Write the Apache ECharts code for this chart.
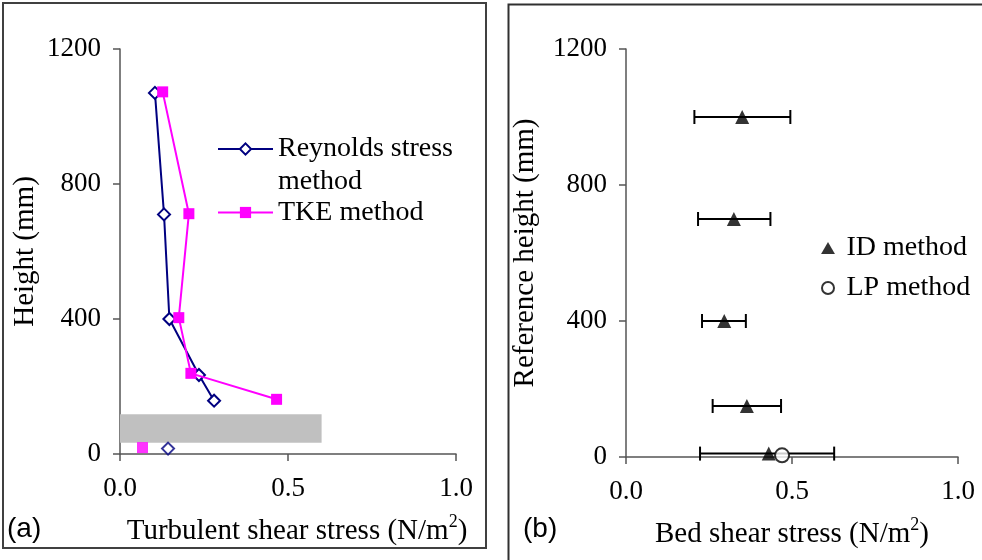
<!DOCTYPE html>
<html>
<head>
<meta charset="utf-8">
<script src="https://cdn.jsdelivr.net/npm/echarts@6/dist/echarts.min.js"></script>
<style>
html,body{margin:0;padding:0;background:#fff;}
#chart{width:982px;height:560px;}
</style>
</head>
<body>
<div id="chart"></div>
<script>
// ---- Panel (a): turbulent shear stress profiles ----
const rsStress = [0.104, 0.131, 0.147, 0.235, 0.280];
const rsHeight = [1070, 710, 400, 234, 158];
const rsNearBedStress = [0.143];
const rsNearBedHeight = [16];

const tkeStress = [0.127, 0.205, 0.175, 0.211, 0.466];
const tkeHeight = [1073, 712, 404, 239, 162];
const tkeNearBedStress = [0.067];
const tkeNearBedHeight = [19];

const bedZoneX = [0, 0.6];
const bedZoneY = [33, 118];

// ---- Panel (b): bed shear stress estimates ----
const idHeight = [1000, 700, 400, 150, 10];
const idStress = [0.350, 0.325, 0.296, 0.364, 0.430];
const idLow = [0.206, 0.217, 0.229, 0.261, 0.223];
const idHigh = [0.495, 0.435, 0.361, 0.467, 0.627];

const lpHeight = [5];
const lpStress = [0.470];

const heightTicks = [0, 400, 800, 1200];
const stressTicks = [0, 0.5, 1.0];

const SERIF = '"Liberation Serif", "Times New Roman", serif';
const SANS = '"Liberation Sans", Arial, sans-serif';

function pairs(xs, ys) { return xs.map((x, i) => [x, ys[i]]); }

const axisLineStyle = { color: '#555', width: 1.5 };

function xAxisCfg(gridIndex, nameRich, padLeft) {
  return {
    type: 'value', gridIndex: gridIndex,
    min: stressTicks[0], max: stressTicks[stressTicks.length - 1], interval: 0.5,
    axisLine: { show: true, onZero: false, lineStyle: axisLineStyle },
    axisTick: { show: true, inside: false, length: 7, lineStyle: axisLineStyle },
    splitLine: { show: false },
    axisLabel: { margin: 21, fontFamily: SERIF, fontSize: 27, color: '#000',
                 formatter: v => v.toFixed(1) },
    name: nameRich, nameLocation: 'middle', nameGap: 59,
    nameTextStyle: {
      fontFamily: SERIF, fontSize: 29, color: '#000', padding: [0, 0, 0, padLeft],
      rich: {
        t: { fontFamily: SERIF, fontSize: 29, color: '#000', lineHeight: 36 },
        s: { fontFamily: SERIF, fontSize: 18, color: '#000', verticalAlign: 'top', lineHeight: 18 }
      }
    }
  };
}

function yAxisCfg(gridIndex, name, nameGap) {
  return {
    type: 'value', gridIndex: gridIndex,
    min: heightTicks[0], max: heightTicks[heightTicks.length - 1], interval: 400,
    axisLine: { show: true, onZero: false, lineStyle: axisLineStyle },
    axisTick: { show: true, inside: false, length: 7, lineStyle: axisLineStyle },
    splitLine: { show: false },
    axisLabel: { margin: 19, fontFamily: SERIF, fontSize: 27, color: '#000',
                 formatter: v => String(v) },
    name: name, nameLocation: 'middle', nameGap: nameGap,
    nameTextStyle: { fontFamily: SERIF, fontSize: 29, color: '#000' }
  };
}

const TRI_ICON = 'path://M6,0 L12,10.4 L0,10.4 Z';
const CIRCLE_ICON = 'path://M0,6 A6,6 0 1,1 12,6 A6,6 0 1,1 0,6 Z';

const chart = echarts.init(document.getElementById('chart'), null, { renderer: 'canvas' });

const option = {
  animation: false,
  backgroundColor: '#fff',
  grid: [
    { left: 120, top: 49, width: 336, height: 405 },
    { left: 626, top: 49, width: 332, height: 408 }
  ],
  xAxis: [
    xAxisCfg(0, '{t|Turbulent shear stress (N/m}{s|2}{t|)}', 18),
    xAxisCfg(1, '{t|Bed shear stress (N/m}{s|2}{t|)}', 0)
  ],
  yAxis: [
    yAxisCfg(0, 'Height (mm)', 80),
    yAxisCfg(1, 'Reference height (mm)', 86)
  ],
  legend: [
    {
      data: ['Reynolds stress method'],
      orient: 'vertical', left: 217, top: 99.5, padding: 0,
      itemWidth: 55, itemHeight: 14,
      formatter: () => '\nReynolds stress\nmethod',
      textStyle: { fontFamily: SERIF, fontSize: 28, color: '#000', lineHeight: 33 }
    },
    {
      data: ['TKE method'],
      orient: 'vertical', left: 217, top: 196, padding: 0,
      itemWidth: 55, itemHeight: 14,
      textStyle: { fontFamily: SERIF, fontSize: 28, color: '#000', lineHeight: 33 }
    },
    {
      data: [{ name: 'ID method', icon: TRI_ICON }, { name: 'LP method', icon: CIRCLE_ICON }],
      orient: 'vertical', left: 821, top: 231.5, padding: 0, itemGap: 7,
      itemWidth: 27, itemHeight: 12, symbolKeepAspect: true,
      textStyle: { fontFamily: SERIF, fontSize: 28, color: '#000', lineHeight: 33 }
    }
  ],
  graphic: [
    { type: 'rect', shape: { x: 3, y: 3, width: 483, height: 545 },
      style: { fill: 'none', stroke: '#404040', lineWidth: 2 }, z: 100 },
    { type: 'rect', shape: { x: 508.5, y: 4.5, width: 520, height: 600 },
      style: { fill: 'none', stroke: '#303030', lineWidth: 2 }, z: 100 },
    { type: 'text', left: 7, top: 515,
      style: { text: '(a)', font: '28px ' + SANS, fill: '#000' } },
    { type: 'text', left: 523, top: 515,
      style: { text: '(b)', font: '28px ' + SANS, fill: '#000' } }
  ],
  series: [
    {
      type: 'custom', name: 'bed zone', xAxisIndex: 0, yAxisIndex: 0, z: 1,
      data: [[bedZoneX[0], bedZoneX[1], bedZoneY[0], bedZoneY[1]]],
      encode: { x: [0, 1], y: [2, 3] },
      renderItem: function (params, api) {
        const p1 = api.coord([api.value(0), api.value(3)]);
        const p2 = api.coord([api.value(1), api.value(2)]);
        return { type: 'rect', shape: { x: p1[0], y: p1[1], width: p2[0] - p1[0], height: p2[1] - p1[1] },
                 style: { fill: '#c0c0c0' } };
      }
    },
    {
      type: 'line', name: 'Reynolds stress method', xAxisIndex: 0, yAxisIndex: 0, z: 3,
      data: pairs(rsStress, rsHeight),
      symbol: 'diamond', symbolSize: 12, showAllSymbol: true,
      lineStyle: { color: '#000080', width: 2 },
      itemStyle: { color: '#ffffff', borderColor: '#000080', borderWidth: 2 }
    },
    {
      type: 'scatter', name: 'Reynolds near bed', xAxisIndex: 0, yAxisIndex: 0, z: 3,
      data: pairs(rsNearBedStress, rsNearBedHeight),
      symbol: 'diamond', symbolSize: 12,
      itemStyle: { color: '#ffffff', borderColor: '#000080', borderWidth: 2 }
    },
    {
      type: 'line', name: 'TKE method', xAxisIndex: 0, yAxisIndex: 0, z: 4,
      data: pairs(tkeStress, tkeHeight),
      symbol: 'rect', symbolSize: 11, showAllSymbol: true,
      lineStyle: { color: '#ff00ff', width: 2 },
      itemStyle: { color: '#ff00ff' }
    },
    {
      type: 'scatter', name: 'TKE near bed', xAxisIndex: 0, yAxisIndex: 0, z: 4,
      data: pairs(tkeNearBedStress, tkeNearBedHeight),
      symbol: 'rect', symbolSize: 11,
      itemStyle: { color: '#ff00ff' }
    },
    {
      type: 'custom', name: 'ID range', xAxisIndex: 1, yAxisIndex: 1, z: 2,
      data: idHeight.map((h, i) => [idLow[i], idHigh[i], h]),
      encode: { x: [0, 1], y: 2 },
      renderItem: function (params, api) {
        const y = api.value(2);
        const a = api.coord([api.value(0), y]);
        const b = api.coord([api.value(1), y]);
        const h = 7;
        const st = { stroke: '#000', lineWidth: 2 };
        return { type: 'group', children: [
          { type: 'line', shape: { x1: a[0], y1: a[1], x2: b[0], y2: b[1] }, style: st },
          { type: 'line', shape: { x1: a[0], y1: a[1] - h, x2: a[0], y2: a[1] + h }, style: st },
          { type: 'line', shape: { x1: b[0], y1: b[1] - h, x2: b[0], y2: b[1] + h }, style: st }
        ] };
      }
    },
    {
      type: 'scatter', name: 'ID method', xAxisIndex: 1, yAxisIndex: 1, z: 3,
      data: pairs(idStress, idHeight),
      symbol: 'triangle', symbolSize: 14,
      itemStyle: { color: '#000' }
    },
    {
      type: 'scatter', name: 'LP method', xAxisIndex: 1, yAxisIndex: 1, z: 4,
      data: pairs(lpStress, lpHeight),
      symbol: 'circle', symbolSize: 14,
      itemStyle: { color: '#fff', borderColor: '#000', borderWidth: 2 }
    }
  ]
};

chart.setOption(option);
</script>
</body>
</html>
